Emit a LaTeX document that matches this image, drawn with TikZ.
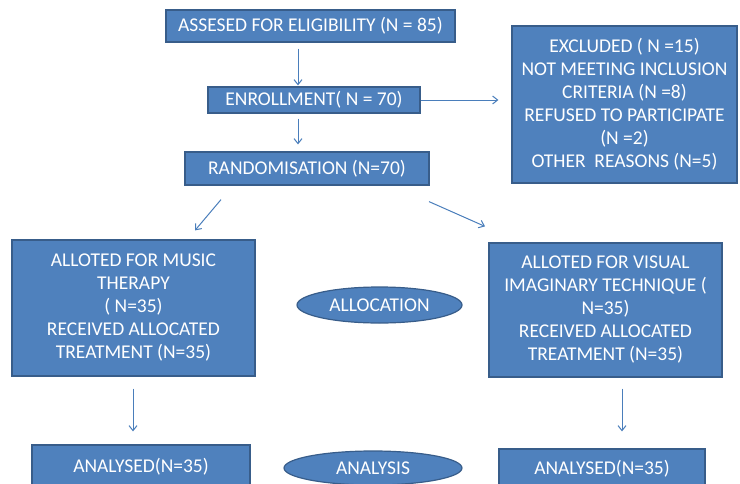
\documentclass[tikz,border=0pt]{standalone}
\usepackage{fontspec}
\setmainfont{Carlito}
\usetikzlibrary{shapes.geometric,arrows.meta}
\definecolor{boxfill}{HTML}{4F81BD}
\definecolor{boxline}{HTML}{385D8A}
\definecolor{arrcol}{HTML}{4A7EBB}
\tikzset{
  box/.style={draw=boxline, fill=boxfill, line width=1.2pt, text=white, align=center,
    inner sep=0pt, font=\fontsize{19.5}{23}\selectfont},
  oval/.style={ellipse, draw=boxline, fill=boxfill, line width=1.2pt, text=white,
    inner sep=0pt, font=\fontsize{19.5}{23}\selectfont},
  arr/.style={draw=arrcol, line width=1pt, -{Straight Barb[length=5pt,width=8pt]}}
}
\begin{document}
\begin{tikzpicture}[x=1pt,y=-1pt]
\useasboundingbox (0,0) rectangle (740,483);
\node[box, minimum width=289pt, minimum height=32pt] (assess) at (310.5,26) {ASSESED FOR ELIGIBILITY (N = 85)};
\node[box, minimum width=212pt, minimum height=26pt] (enroll) at (314,100) {ENROLLMENT( N = 70)};
\node[box, minimum width=244pt, minimum height=33pt] (rand) at (307,168.5) {RANDOMISATION (N=70)};
\node[box, minimum width=225pt, minimum height=157pt] (excl) at (624.5,104.5) {EXCLUDED ( N =15)\\NOT MEETING INCLUSION\\CRITERIA (N =8)\\REFUSED TO PARTICIPATE\\(N =2)\\OTHER\ \ REASONS (N=5)};
\node[box, minimum width=243pt, minimum height=136pt] (music) at (133.5,308) {ALLOTED FOR MUSIC\\THERAPY\\( N=35)\\RECEIVED ALLOCATED\\TREATMENT (N=35)};
\node[box, minimum width=233pt, minimum height=134pt] (visual) at (605.5,310) {ALLOTED FOR VISUAL\\IMAGINARY TECHNIQUE (\\N=35)\\RECEIVED ALLOCATED\\TREATMENT (N=35)};
\node[oval, minimum width=165pt, minimum height=36pt] (alloc) at (379.5,305) {ALLOCATION};
\node[box, minimum width=218pt, minimum height=44pt] (anl) at (141,467) {ANALYSED(N=35)};
\node[box, minimum width=206pt, minimum height=40pt] (anr) at (602,469) {ANALYSED(N=35)};
\node[oval, minimum width=178pt, minimum height=34pt] (analysis) at (373,468) {ANALYSIS};
\draw[arr] ([shift={(-12.5,6)}]assess.south) -- ([shift={(-16,-1)}]enroll.north);
\draw[arr] ([shift={(-16,5)}]enroll.south) -- ([shift={(-9,-7)}]rand.north);
\draw[arr] (enroll.east) -- ([shift={(-13,-4.5)}]excl.west);
\draw[arr] ([shift={(-86,14)}]rand.south) -- ([shift={(61.5,-9)}]music.north);
\draw[arr] ([shift={(122,16)}]rand.south) -- ([shift={(-120.5,-16)}]visual.north);
\draw[arr] ([shift={(-0.5,12)}]music.south) -- ([shift={(-8,-13)}]anl.north);
\draw[arr] ([shift={(16.5,11)}]visual.south) -- ([shift={(20,-17)}]anr.north);
\end{tikzpicture}
\end{document}
